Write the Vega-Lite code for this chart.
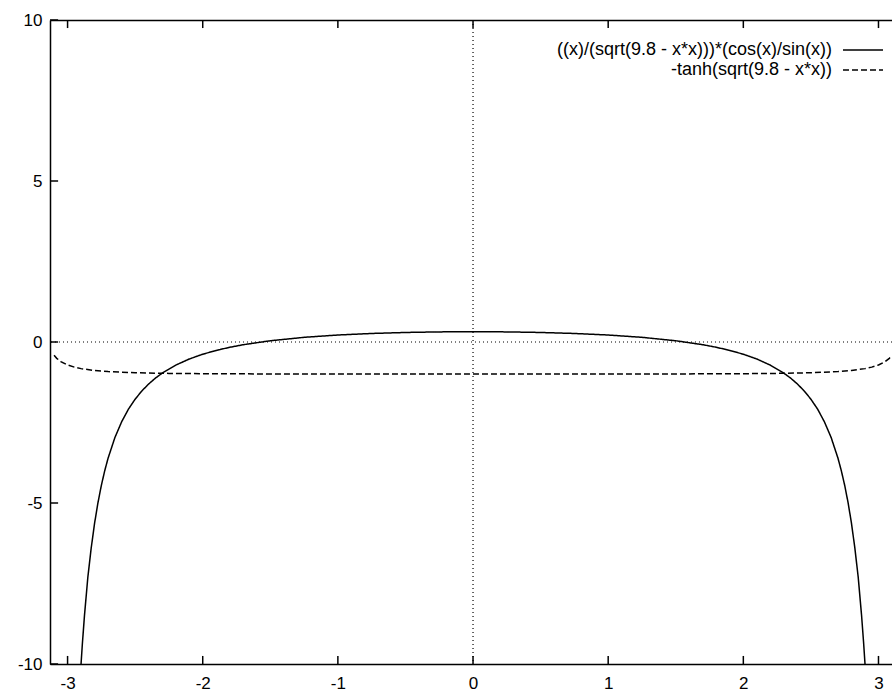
{
  "$schema": "https://vega.github.io/schema/vega-lite/v6.json",
  "width": 842,
  "height": 644,
  "autosize": {"type": "none"},
  "padding": {"left": 50, "top": 20, "right": 0, "bottom": 36},
  "background": "white",
  "config": {
    "view": {"stroke": null},
    "axis": {
      "labelFont": "Liberation Sans",
      "labelFontSize": 17,
      "labelColor": "black",
      "domainColor": "black",
      "domainWidth": 1.5,
      "grid": false,
      "ticks": false,
      "title": null,
      "labelExpr": "'' + datum.value"
    },
    "legend": {
      "orient": "none",
      "legendX": 804,
      "legendY": 21,
      "symbolType": "M-4,0H4",
      "symbolSize": 100,
      "symbolStrokeWidth": 1.5,
      "symbolStrokeColor": "black",
      "labelAlign": "right",
      "labelOffset": -40,
      "labelFont": "Liberation Sans",
      "labelFontSize": 18,
      "labelColor": "black",
      "labelLimit": 0,
      "padding": 0,
      "rowPadding": 2,
      "title": null
    }
  },
  "resolve": {"axis": {"x": "independent", "y": "independent"}},
  "layer": [
    {
      "data": {"values": [{"v": 0}]},
      "mark": {"type": "rule", "strokeDash": [1, 3], "color": "black", "strokeWidth": 1.2},
      "encoding": {
        "y": {"field": "v", "type": "quantitative", "scale": {"domain": [-10, 10], "nice": false, "zero": false}, "axis": null}
      }
    },
    {
      "data": {"values": [{"v": 0}]},
      "mark": {"type": "rule", "strokeDash": [1, 3], "color": "black", "strokeWidth": 1.2},
      "encoding": {
        "x": {
          "field": "v",
          "type": "quantitative",
          "scale": {"domain": [-3.13, 3.1], "nice": false, "zero": false},
          "axis": {"orient": "top", "labels": false, "values": [-3, -2, -1, 0, 1, 2, 3]}
        }
      }
    },
    {
      "data": {"values": [{"t": -3}, {"t": -2}, {"t": -1}, {"t": 0}, {"t": 1}, {"t": 2}, {"t": 3}]},
      "layer": [
        {
          "mark": {"type": "rule", "color": "black", "strokeWidth": 1.5},
          "encoding": {
            "x": {"field": "t", "type": "quantitative", "axis": null},
            "y": {"datum": -10, "type": "quantitative", "axis": null},
            "y2": {"datum": -9.75}
          }
        },
        {
          "mark": {"type": "rule", "color": "black", "strokeWidth": 1.5},
          "encoding": {
            "x": {"field": "t", "type": "quantitative", "axis": null},
            "y": {"datum": 10, "type": "quantitative", "axis": null},
            "y2": {"datum": 9.75}
          }
        }
      ]
    },
    {
      "data": {"values": [{"t": -10}, {"t": -5}, {"t": 0}, {"t": 5}, {"t": 10}]},
      "mark": {"type": "rule", "color": "black", "strokeWidth": 1.5},
      "encoding": {
        "y": {"field": "t", "type": "quantitative", "axis": null},
        "x": {"datum": -3.13, "type": "quantitative", "axis": null},
        "x2": {"datum": -3.07}
      }
    },
    {
      "data": {
        "values": [
          {"x": -2.91, "y": -10.69, "s": "((x)/(sqrt(9.8 - x*x)))*(cos(x)/sin(x))"},
          {"x": -2.9, "y": -9.982, "s": "((x)/(sqrt(9.8 - x*x)))*(cos(x)/sin(x))"},
          {"x": -2.89, "y": -9.344, "s": "((x)/(sqrt(9.8 - x*x)))*(cos(x)/sin(x))"},
          {"x": -2.875, "y": -8.499, "s": "((x)/(sqrt(9.8 - x*x)))*(cos(x)/sin(x))"},
          {"x": -2.85, "y": -7.305, "s": "((x)/(sqrt(9.8 - x*x)))*(cos(x)/sin(x))"},
          {"x": -2.825, "y": -6.393, "s": "((x)/(sqrt(9.8 - x*x)))*(cos(x)/sin(x))"},
          {"x": -2.8, "y": -5.625, "s": "((x)/(sqrt(9.8 - x*x)))*(cos(x)/sin(x))"},
          {"x": -2.775, "y": -4.988, "s": "((x)/(sqrt(9.8 - x*x)))*(cos(x)/sin(x))"},
          {"x": -2.75, "y": -4.452, "s": "((x)/(sqrt(9.8 - x*x)))*(cos(x)/sin(x))"},
          {"x": -2.725, "y": -3.997, "s": "((x)/(sqrt(9.8 - x*x)))*(cos(x)/sin(x))"},
          {"x": -2.7, "y": -3.605, "s": "((x)/(sqrt(9.8 - x*x)))*(cos(x)/sin(x))"},
          {"x": -2.65, "y": -2.97, "s": "((x)/(sqrt(9.8 - x*x)))*(cos(x)/sin(x))"},
          {"x": -2.6, "y": -2.479, "s": "((x)/(sqrt(9.8 - x*x)))*(cos(x)/sin(x))"},
          {"x": -2.55, "y": -2.088, "s": "((x)/(sqrt(9.8 - x*x)))*(cos(x)/sin(x))"},
          {"x": -2.5, "y": -1.776, "s": "((x)/(sqrt(9.8 - x*x)))*(cos(x)/sin(x))"},
          {"x": -2.45, "y": -1.518, "s": "((x)/(sqrt(9.8 - x*x)))*(cos(x)/sin(x))"},
          {"x": -2.4, "y": -1.304, "s": "((x)/(sqrt(9.8 - x*x)))*(cos(x)/sin(x))"},
          {"x": -2.35, "y": -1.122, "s": "((x)/(sqrt(9.8 - x*x)))*(cos(x)/sin(x))"},
          {"x": -2.3, "y": -0.968, "s": "((x)/(sqrt(9.8 - x*x)))*(cos(x)/sin(x))"},
          {"x": -2.2, "y": -0.719, "s": "((x)/(sqrt(9.8 - x*x)))*(cos(x)/sin(x))"},
          {"x": -2.1, "y": -0.529, "s": "((x)/(sqrt(9.8 - x*x)))*(cos(x)/sin(x))"},
          {"x": -2.0, "y": -0.38, "s": "((x)/(sqrt(9.8 - x*x)))*(cos(x)/sin(x))"},
          {"x": -1.9, "y": -0.261, "s": "((x)/(sqrt(9.8 - x*x)))*(cos(x)/sin(x))"},
          {"x": -1.8, "y": -0.164, "s": "((x)/(sqrt(9.8 - x*x)))*(cos(x)/sin(x))"},
          {"x": -1.7, "y": -0.084, "s": "((x)/(sqrt(9.8 - x*x)))*(cos(x)/sin(x))"},
          {"x": -1.5, "y": 0.039, "s": "((x)/(sqrt(9.8 - x*x)))*(cos(x)/sin(x))"},
          {"x": -1.25, "y": 0.145, "s": "((x)/(sqrt(9.8 - x*x)))*(cos(x)/sin(x))"},
          {"x": -1.0, "y": 0.217, "s": "((x)/(sqrt(9.8 - x*x)))*(cos(x)/sin(x))"},
          {"x": -0.75, "y": 0.265, "s": "((x)/(sqrt(9.8 - x*x)))*(cos(x)/sin(x))"},
          {"x": -0.5, "y": 0.296, "s": "((x)/(sqrt(9.8 - x*x)))*(cos(x)/sin(x))"},
          {"x": -0.25, "y": 0.314, "s": "((x)/(sqrt(9.8 - x*x)))*(cos(x)/sin(x))"},
          {"x": 0.0, "y": 0.319, "s": "((x)/(sqrt(9.8 - x*x)))*(cos(x)/sin(x))"},
          {"x": 0.25, "y": 0.314, "s": "((x)/(sqrt(9.8 - x*x)))*(cos(x)/sin(x))"},
          {"x": 0.5, "y": 0.296, "s": "((x)/(sqrt(9.8 - x*x)))*(cos(x)/sin(x))"},
          {"x": 0.75, "y": 0.265, "s": "((x)/(sqrt(9.8 - x*x)))*(cos(x)/sin(x))"},
          {"x": 1.0, "y": 0.217, "s": "((x)/(sqrt(9.8 - x*x)))*(cos(x)/sin(x))"},
          {"x": 1.25, "y": 0.145, "s": "((x)/(sqrt(9.8 - x*x)))*(cos(x)/sin(x))"},
          {"x": 1.5, "y": 0.039, "s": "((x)/(sqrt(9.8 - x*x)))*(cos(x)/sin(x))"},
          {"x": 1.7, "y": -0.084, "s": "((x)/(sqrt(9.8 - x*x)))*(cos(x)/sin(x))"},
          {"x": 1.8, "y": -0.164, "s": "((x)/(sqrt(9.8 - x*x)))*(cos(x)/sin(x))"},
          {"x": 1.9, "y": -0.261, "s": "((x)/(sqrt(9.8 - x*x)))*(cos(x)/sin(x))"},
          {"x": 2.0, "y": -0.38, "s": "((x)/(sqrt(9.8 - x*x)))*(cos(x)/sin(x))"},
          {"x": 2.1, "y": -0.529, "s": "((x)/(sqrt(9.8 - x*x)))*(cos(x)/sin(x))"},
          {"x": 2.2, "y": -0.719, "s": "((x)/(sqrt(9.8 - x*x)))*(cos(x)/sin(x))"},
          {"x": 2.3, "y": -0.968, "s": "((x)/(sqrt(9.8 - x*x)))*(cos(x)/sin(x))"},
          {"x": 2.35, "y": -1.122, "s": "((x)/(sqrt(9.8 - x*x)))*(cos(x)/sin(x))"},
          {"x": 2.4, "y": -1.304, "s": "((x)/(sqrt(9.8 - x*x)))*(cos(x)/sin(x))"},
          {"x": 2.45, "y": -1.518, "s": "((x)/(sqrt(9.8 - x*x)))*(cos(x)/sin(x))"},
          {"x": 2.5, "y": -1.776, "s": "((x)/(sqrt(9.8 - x*x)))*(cos(x)/sin(x))"},
          {"x": 2.55, "y": -2.088, "s": "((x)/(sqrt(9.8 - x*x)))*(cos(x)/sin(x))"},
          {"x": 2.6, "y": -2.479, "s": "((x)/(sqrt(9.8 - x*x)))*(cos(x)/sin(x))"},
          {"x": 2.65, "y": -2.97, "s": "((x)/(sqrt(9.8 - x*x)))*(cos(x)/sin(x))"},
          {"x": 2.7, "y": -3.605, "s": "((x)/(sqrt(9.8 - x*x)))*(cos(x)/sin(x))"},
          {"x": 2.725, "y": -3.997, "s": "((x)/(sqrt(9.8 - x*x)))*(cos(x)/sin(x))"},
          {"x": 2.75, "y": -4.452, "s": "((x)/(sqrt(9.8 - x*x)))*(cos(x)/sin(x))"},
          {"x": 2.775, "y": -4.988, "s": "((x)/(sqrt(9.8 - x*x)))*(cos(x)/sin(x))"},
          {"x": 2.8, "y": -5.625, "s": "((x)/(sqrt(9.8 - x*x)))*(cos(x)/sin(x))"},
          {"x": 2.825, "y": -6.393, "s": "((x)/(sqrt(9.8 - x*x)))*(cos(x)/sin(x))"},
          {"x": 2.85, "y": -7.305, "s": "((x)/(sqrt(9.8 - x*x)))*(cos(x)/sin(x))"},
          {"x": 2.875, "y": -8.499, "s": "((x)/(sqrt(9.8 - x*x)))*(cos(x)/sin(x))"},
          {"x": 2.89, "y": -9.344, "s": "((x)/(sqrt(9.8 - x*x)))*(cos(x)/sin(x))"},
          {"x": 2.9, "y": -9.982, "s": "((x)/(sqrt(9.8 - x*x)))*(cos(x)/sin(x))"},
          {"x": 2.91, "y": -10.69, "s": "((x)/(sqrt(9.8 - x*x)))*(cos(x)/sin(x))"},
          {"x": -3.1, "y": -0.41, "s": "-tanh(sqrt(9.8 - x*x))"},
          {"x": -3.08, "y": -0.508, "s": "-tanh(sqrt(9.8 - x*x))"},
          {"x": -3.05, "y": -0.608, "s": "-tanh(sqrt(9.8 - x*x))"},
          {"x": -3.0, "y": -0.714, "s": "-tanh(sqrt(9.8 - x*x))"},
          {"x": -2.95, "y": -0.781, "s": "-tanh(sqrt(9.8 - x*x))"},
          {"x": -2.9, "y": -0.827, "s": "-tanh(sqrt(9.8 - x*x))"},
          {"x": -2.8, "y": -0.885, "s": "-tanh(sqrt(9.8 - x*x))"},
          {"x": -2.7, "y": -0.919, "s": "-tanh(sqrt(9.8 - x*x))"},
          {"x": -2.5, "y": -0.955, "s": "-tanh(sqrt(9.8 - x*x))"},
          {"x": -2.25, "y": -0.975, "s": "-tanh(sqrt(9.8 - x*x))"},
          {"x": -2.0, "y": -0.984, "s": "-tanh(sqrt(9.8 - x*x))"},
          {"x": -1.5, "y": -0.992, "s": "-tanh(sqrt(9.8 - x*x))"},
          {"x": -1.0, "y": -0.995, "s": "-tanh(sqrt(9.8 - x*x))"},
          {"x": -0.5, "y": -0.996, "s": "-tanh(sqrt(9.8 - x*x))"},
          {"x": 0.0, "y": -0.996, "s": "-tanh(sqrt(9.8 - x*x))"},
          {"x": 0.5, "y": -0.996, "s": "-tanh(sqrt(9.8 - x*x))"},
          {"x": 1.0, "y": -0.995, "s": "-tanh(sqrt(9.8 - x*x))"},
          {"x": 1.5, "y": -0.992, "s": "-tanh(sqrt(9.8 - x*x))"},
          {"x": 2.0, "y": -0.984, "s": "-tanh(sqrt(9.8 - x*x))"},
          {"x": 2.25, "y": -0.975, "s": "-tanh(sqrt(9.8 - x*x))"},
          {"x": 2.5, "y": -0.955, "s": "-tanh(sqrt(9.8 - x*x))"},
          {"x": 2.7, "y": -0.919, "s": "-tanh(sqrt(9.8 - x*x))"},
          {"x": 2.8, "y": -0.885, "s": "-tanh(sqrt(9.8 - x*x))"},
          {"x": 2.9, "y": -0.827, "s": "-tanh(sqrt(9.8 - x*x))"},
          {"x": 2.95, "y": -0.781, "s": "-tanh(sqrt(9.8 - x*x))"},
          {"x": 3.0, "y": -0.714, "s": "-tanh(sqrt(9.8 - x*x))"},
          {"x": 3.05, "y": -0.608, "s": "-tanh(sqrt(9.8 - x*x))"},
          {"x": 3.08, "y": -0.508, "s": "-tanh(sqrt(9.8 - x*x))"},
          {"x": 3.1, "y": -0.41, "s": "-tanh(sqrt(9.8 - x*x))"}
        ]
      },
      "mark": {"type": "line", "color": "black", "strokeWidth": 1.5, "clip": true},
      "encoding": {
        "x": {
          "field": "x",
          "type": "quantitative",
          "scale": {"domain": [-3.13, 3.1], "nice": false, "zero": false},
          "axis": {"orient": "bottom", "values": [-3, -2, -1, 0, 1, 2, 3], "labelPadding": 11}
        },
        "y": {
          "field": "y",
          "type": "quantitative",
          "scale": {"domain": [-10, 10], "nice": false, "zero": false},
          "axis": {"orient": "left", "values": [-10, -5, 0, 5, 10], "labelPadding": 8}
        },
        "strokeDash": {
          "field": "s",
          "type": "nominal",
          "scale": {
            "domain": ["((x)/(sqrt(9.8 - x*x)))*(cos(x)/sin(x))", "-tanh(sqrt(9.8 - x*x))"],
            "range": [[1, 0], [6, 3]]
          }
        }
      }
    }
  ]
}
